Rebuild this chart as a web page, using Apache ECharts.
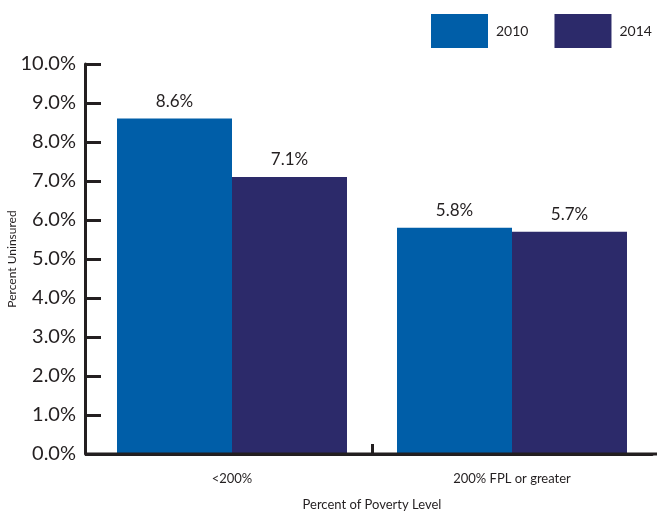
<!DOCTYPE html>
<html>
<head>
<meta charset="utf-8">
<script src="https://cdn.jsdelivr.net/npm/echarts@6/dist/echarts.min.js"></script>
<style>html,body{margin:0;padding:0;background:#fff}#c{width:657px;height:512px}</style>
</head>
<body>
<div id="c"></div>
<script>
const categories = ['<200%', '200% FPL or greater'];
const series2010 = [8.6, 5.8];
const series2014 = [7.1, 5.7];
const seriesNames = ['2010', '2014'];

const chart = echarts.init(document.getElementById('c'), null, {renderer: 'canvas'});
const FONT = 'Lato';
const INK = '#231f20';
const labelCfg = {
  show: true, position: 'top', distance: 9,
  formatter: p => p.value.toFixed(1) + '%',
  color: INK, fontSize: 17, fontFamily: FONT
};
chart.setOption({
  animation: false,
  legend: {
    left: 426, top: 9,
    itemWidth: 57, itemHeight: 34, itemGap: 26,
    icon: 'rect',
    textStyle: {color: INK, fontSize: 14, fontFamily: FONT, padding: [0, 0, 0, 3]},
    data: seriesNames
  },
  grid: {left: 92, right: 5, top: 64, bottom: 58, containLabel: false, outerBoundsMode: 'none'},
  graphic: [{
    type: 'line', silent: true, z: 10,
    shape: {x1: 85, y1: 454, x2: 657, y2: 454},
    style: {stroke: INK, lineWidth: 3}
  }],
  xAxis: [{
    type: 'category',
    data: categories,
    axisLine: {onZero: false, lineStyle: {color: INK, width: 3}},
    axisTick: {show: false},
    axisLabel: {color: INK, fontSize: 13, fontFamily: FONT, margin: 18},
    name: 'Percent of Poverty Level',
    nameLocation: 'middle', nameGap: 44,
    nameTextStyle: {color: INK, fontSize: 13, fontFamily: FONT}
  }, {
    type: 'value', position: 'bottom', min: 0, max: 2, interval: 1,
    axisLine: {show: false, onZero: false},
    axisLabel: {show: false},
    splitLine: {show: false},
    axisTick: {show: true, inside: true, length: 10, customValues: [1],
      lineStyle: {color: INK, width: 3}}
  }],
  yAxis: {
    type: 'value', min: 0, max: 10, interval: 1,
    offset: 7,
    axisLine: {show: true, onZero: false, lineStyle: {color: INK, width: 3}},
    axisTick: {show: true, inside: true, length: 16, lineStyle: {color: INK, width: 3}},
    splitLine: {show: false},
    axisLabel: {color: INK, fontSize: 20, fontFamily: FONT, margin: 9,
      formatter: v => v.toFixed(1) + '%'},
    name: 'Percent Uninsured',
    nameLocation: 'middle', nameGap: 67, nameRotate: 90, nameMoveOverlap: false,
    nameTextStyle: {color: INK, fontSize: 12, fontFamily: FONT}
  },
  series: [
    {name: seriesNames[0], type: 'bar', data: series2010, barWidth: 115, barGap: '0%',
     itemStyle: {color: '#005ea8'}, label: labelCfg},
    {name: seriesNames[1], type: 'bar', data: series2014, barWidth: 115, barGap: '0%',
     itemStyle: {color: '#2c2a6a'}, label: labelCfg}
  ]
});
</script>
</body>
</html>
